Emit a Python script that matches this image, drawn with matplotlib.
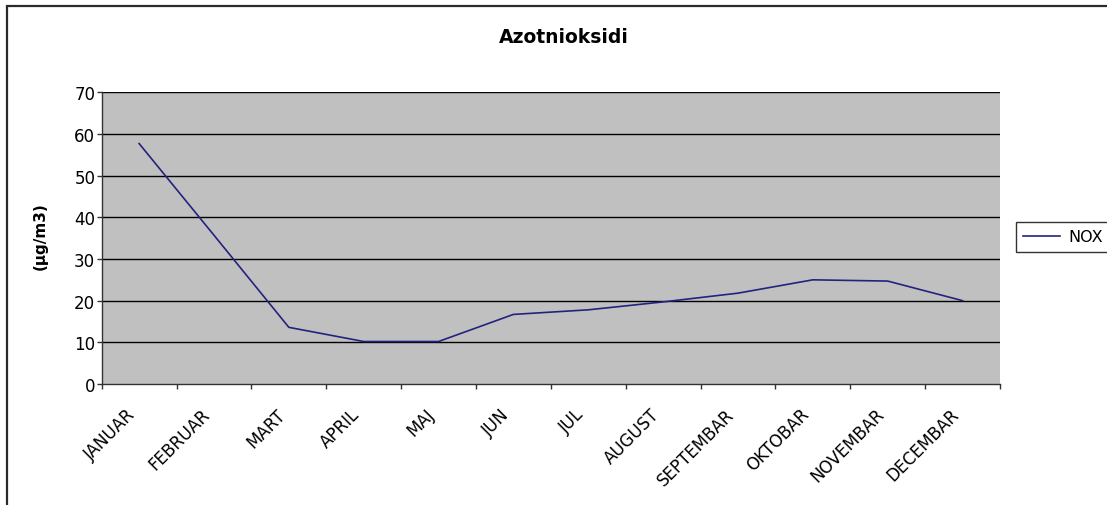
import matplotlib
matplotlib.use("Agg")
import matplotlib.pyplot as plt
from matplotlib.patches import Rectangle
from matplotlib.transforms import ScaledTranslation
import numpy as np

plt.rcParams['font.family'] = ['DejaVu Sans']

months = ["JANUAR", "FEBRUAR", "MART", "APRIL", "MAJ", "JUN", "JUL",
          "AUGUST", "SEPTEMBAR", "OKTOBAR", "NOVEMBAR", "DECEMBAR"]
nox = [57.7, 35.7, 13.6, 10.2, 10.2, 16.7, 17.8, 19.7, 21.8, 25.0, 24.7, 20.0]
y_ticks = [0, 10, 20, 30, 40, 50, 60, 70]

W, H = 1107, 506
fig = plt.figure(figsize=(W / 100, H / 100), dpi=100)
fig.patch.set_facecolor("white")

# outer chart-area frame (runs off the right and bottom edges)
fig.patches.append(Rectangle((7 / W, -0.1), 2.0, (H - 7) / H + 0.1,
                             transform=fig.transFigure, fill=False,
                             edgecolor="#2b2b2b", linewidth=1.6, zorder=0))

left, right = 101.7 / W, 1000 / W
bottom, top = 1 - 385 / H, 1 - 93.3 / H
ax = fig.add_axes([left, bottom, right - left, top - bottom])
ax.set_facecolor("#C0C0C0")

x = np.arange(len(months))
ax.plot(x, nox, color="#23237e", linewidth=1.2, label="NOX", zorder=3)

ax.set_xlim(-0.5, len(months) - 0.5)
ax.set_ylim(0, 70)
ax.set_yticks(y_ticks)
ax.set_yticklabels([str(v) for v in y_ticks], fontsize=12)
for v in y_ticks[1:]:
    ax.axhline(v, color="black", linewidth=1.0, zorder=1)

ax.set_xticks(x)
ax.set_xticklabels(months, rotation=45, ha="right", rotation_mode="anchor",
                   fontsize=12)
ax.tick_params(axis="x", which="major", length=0, pad=15)
ax.set_xticks(np.arange(-0.5, len(months)), minor=True)
ax.tick_params(axis="x", which="minor", length=3.6, width=1, color="#333333",
               direction="out")
ax.tick_params(axis="y", length=3.6, width=1, color="#333333", direction="out",
               pad=1)

# nudge the slanted month names a little to the left of each category centre
shift = ScaledTranslation(-13 / 100, 0, fig.dpi_scale_trans)
for lbl in ax.get_xticklabels():
    lbl.set_transform(lbl.get_transform() + shift)

for s in ["top", "right"]:
    ax.spines[s].set_visible(False)
for s in ["left", "bottom"]:
    ax.spines[s].set_color("#333333")
    ax.spines[s].set_linewidth(1.0)

fig.text(564 / W, 1 - 43 / H, "Azotnioksidi", ha="center", va="baseline",
         fontsize=13.5, fontweight="bold")
fig.text(40.5 / W, 1 - 236 / H, "(µg/m3)", ha="center", va="center",
         rotation=90, fontsize=11, fontweight="bold")

leg = fig.legend(loc="center left", bbox_to_anchor=(1016 / W, 1 - 238 / H),
                 prop={"size": 11.5}, frameon=True, fancybox=False,
                 handlelength=2.3, handletextpad=0.55, borderpad=0.45,
                 borderaxespad=0)
leg.get_frame().set_edgecolor("black")
leg.get_frame().set_linewidth(1.0)

fig.savefig("out.png", dpi=100)
